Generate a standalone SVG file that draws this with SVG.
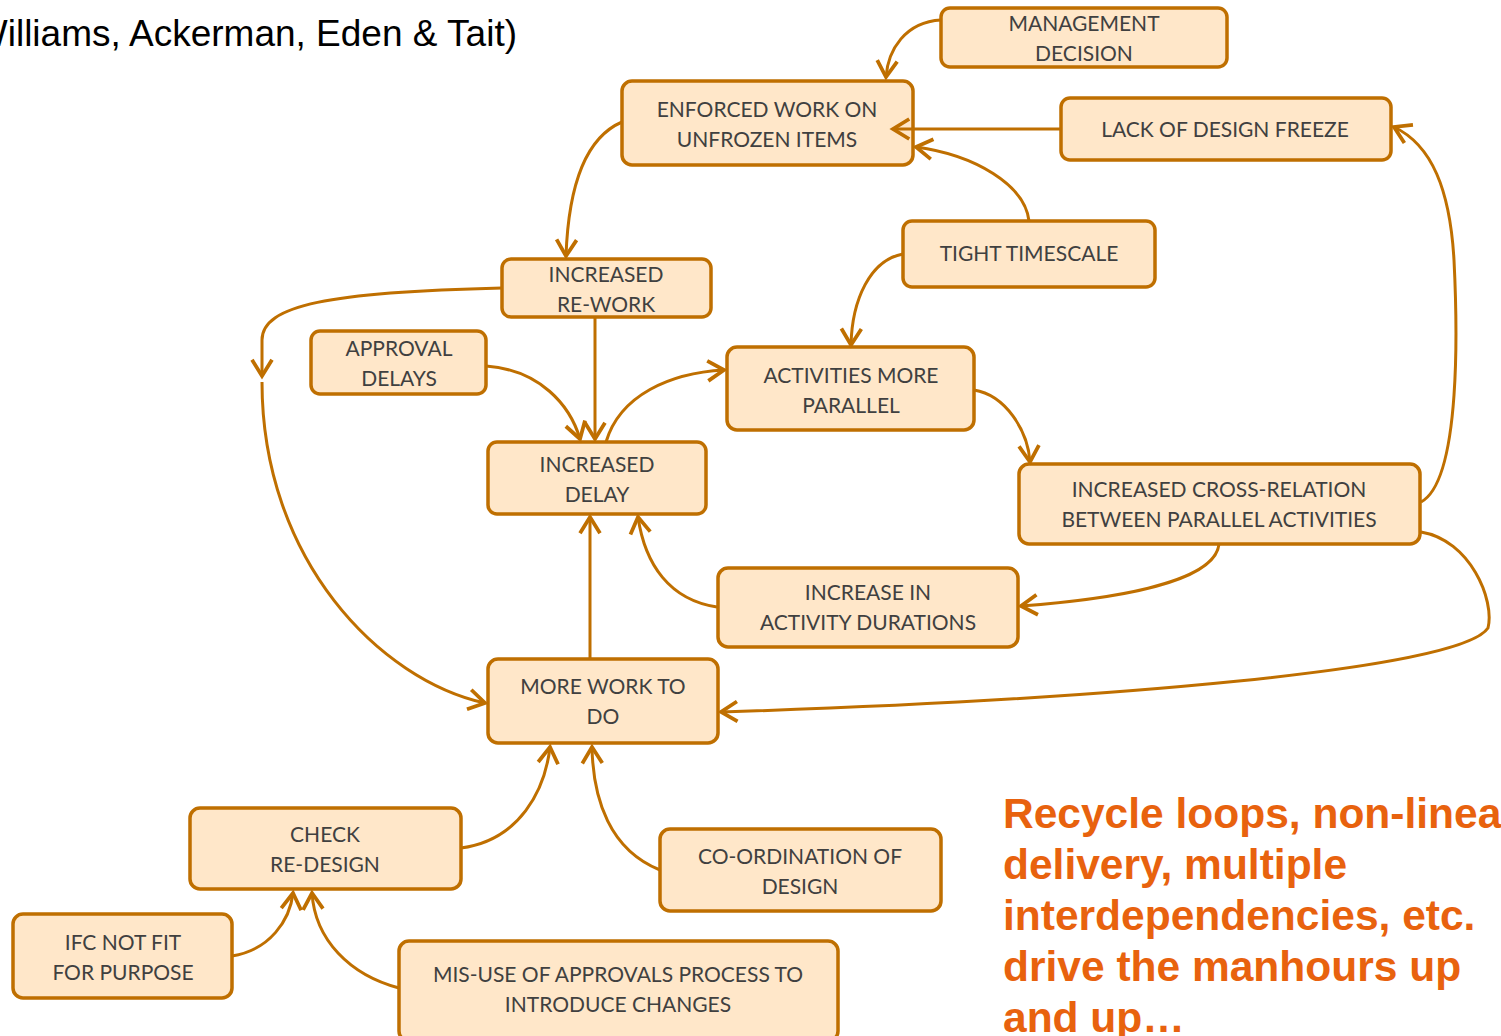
<svg xmlns="http://www.w3.org/2000/svg" width="1501" height="1036" viewBox="0 0 1501 1036">
<style>
.n rect{fill:#FFE7C9;stroke:#BF6F00;stroke-width:3.5}
.n text{font-family:Lato,"Open Sans","Liberation Sans",sans-serif;font-size:21px;fill:#404040;text-anchor:middle;dominant-baseline:central}
#edges path{fill:none;stroke:#BF6F00;stroke-width:3;marker-end:url(#ah)}
.title{font-family:"Liberation Sans",Arial,sans-serif;font-size:37px;fill:#000}
.note{font-family:"Liberation Sans",Arial,sans-serif;font-size:42.5px;font-weight:bold;fill:#E8620E}
</style>
<defs>
<marker id="ah" markerUnits="userSpaceOnUse" markerWidth="30" markerHeight="30" viewBox="-16 -12 20 24" refX="0" refY="0" orient="auto">
<path d="M-13,-8 L0,0 L-13,8" fill="none" stroke="#BF6F00" stroke-width="3" stroke-linejoin="miter"/>
</marker>
</defs>
<rect width="1501" height="1036" fill="#fff"/>
<text class="title" x="517" y="46" text-anchor="end">(Williams, Ackerman, Eden &amp; Tait)</text>
<g id="n1" class="n"><rect x="941" y="8" width="286" height="59" rx="9"/><text x="1084" y="22">MANAGEMENT</text><text x="1084" y="52">DECISION</text></g>
<g id="n2" class="n"><rect x="622" y="81" width="291" height="84" rx="10"/><text x="767" y="108">ENFORCED WORK ON</text><text x="767" y="138">UNFROZEN ITEMS</text></g>
<g id="n3" class="n"><rect x="1061" y="98" width="330" height="62" rx="9"/><text x="1225" y="128">LACK OF DESIGN FREEZE</text></g>
<g id="n4" class="n"><rect x="903" y="221" width="252" height="66" rx="9"/><text x="1029" y="252">TIGHT TIMESCALE</text></g>
<g id="n5" class="n"><rect x="502" y="259" width="209" height="58" rx="9"/><text x="606" y="273">INCREASED</text><text x="606" y="303">RE-WORK</text></g>
<g id="n6" class="n"><rect x="311" y="331" width="175" height="63" rx="9"/><text x="399" y="347">APPROVAL</text><text x="399" y="377">DELAYS</text></g>
<g id="n7" class="n"><rect x="727" y="347" width="247" height="83" rx="10"/><text x="851" y="374">ACTIVITIES MORE</text><text x="851" y="404">PARALLEL</text></g>
<g id="n8" class="n"><rect x="488" y="442" width="218" height="72" rx="9"/><text x="597" y="463">INCREASED</text><text x="597" y="493">DELAY</text></g>
<g id="n9" class="n"><rect x="1019" y="464" width="401" height="80" rx="10"/><text x="1219" y="488">INCREASED CROSS-RELATION</text><text x="1219" y="518">BETWEEN PARALLEL ACTIVITIES</text></g>
<g id="n10" class="n"><rect x="718" y="568" width="300" height="79" rx="10"/><text x="868" y="591">INCREASE IN</text><text x="868" y="621">ACTIVITY DURATIONS</text></g>
<g id="n11" class="n"><rect x="488" y="659" width="230" height="84" rx="10"/><text x="603" y="685">MORE WORK TO</text><text x="603" y="715">DO</text></g>
<g id="n12" class="n"><rect x="190" y="808" width="271" height="81" rx="10"/><text x="325" y="833">CHECK</text><text x="325" y="863">RE-DESIGN</text></g>
<g id="n13" class="n"><rect x="660" y="829" width="281" height="82" rx="10"/><text x="800" y="855">CO-ORDINATION OF</text><text x="800" y="885">DESIGN</text></g>
<g id="n14" class="n"><rect x="13" y="914" width="219" height="84" rx="10"/><text x="123" y="941">IFC NOT FIT</text><text x="123" y="971">FOR PURPOSE</text></g>
<g id="n15" class="n"><rect x="399" y="941" width="439" height="100" rx="10"/><text x="618" y="973">MIS-USE OF APPROVALS PROCESS TO</text><text x="618" y="1003">INTRODUCE CHANGES</text></g>
<g id="edges">
<path d="M941,20 C905,22 888,50 886,77"/>
<path d="M1061,129 L893,129"/>
<path d="M1029,221 C1025,185 975,155 916,147"/>
<path d="M622,122 C580,140 568,200 566,256"/>
<path d="M502,288 C330,292 262,305 262,340 L262,376"/>
<path d="M262,382 C262,560 380,680 485,703"/>
<path d="M595,317 L595,439"/>
<path d="M486,366 C540,370 570,405 580,439"/>
<path d="M606,442 C620,395 670,373 724,370"/>
<path d="M903,254 C870,260 852,300 851,345"/>
<path d="M974,390 C1005,395 1028,430 1030,462"/>
<path d="M1421,502 C1462,480 1457,320 1454,260 C1450,190 1432,145 1394,127"/>
<path d="M1219,544 C1215,585 1100,600 1021,606"/>
<path d="M1421,532 C1470,540 1495,600 1488,628 C1460,670 1100,700 721,712"/>
<path d="M717,607 C670,600 645,565 638,517"/>
<path d="M590,658 L590,517"/>
<path d="M461,848 C520,840 545,790 550,747"/>
<path d="M660,870 C610,850 593,800 592,747"/>
<path d="M232,956 C270,950 290,920 293,893"/>
<path d="M399,988 C350,975 315,940 312,893"/>
</g>
<text class="note" x="1003" y="828">Recycle loops, non-linear</text>
<text class="note" x="1003" y="879">delivery, multiple</text>
<text class="note" x="1003" y="930">interdependencies, etc.</text>
<text class="note" x="1003" y="981">drive the manhours up</text>
<text class="note" x="1003" y="1032">and up…</text>
</svg>
